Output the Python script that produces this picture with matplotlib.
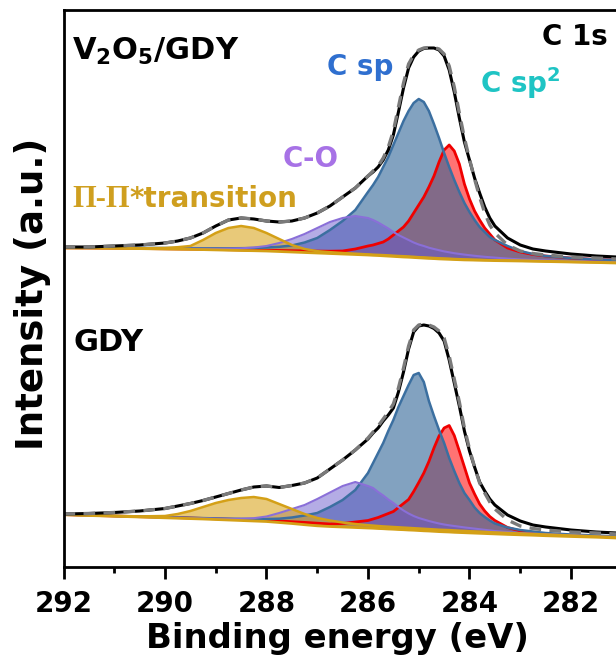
import numpy as np
import matplotlib.pyplot as plt

plt.rcParams['font.family'] = 'DejaVu Sans'
plt.rcParams['font.weight'] = 'bold'
plt.rcParams['mathtext.fontset'] = 'dejavusans'
plt.rcParams['mathtext.default'] = 'bf'

## Data (intensity in a.u., each spectrum relative to its own baseline)
binding_energy = [292.0, 291.5, 291.0, 290.5, 290.0, 289.75, 289.5, 289.25, 289.0, 288.75,
                  288.5, 288.25, 288.0, 287.75, 287.5, 287.25, 287.0, 286.75, 286.5, 286.25,
                  286.0, 285.9, 285.8, 285.7, 285.6, 285.5, 285.4, 285.3, 285.2, 285.1,
                  285.0, 284.9, 284.8, 284.7, 284.6, 284.5, 284.4, 284.3, 284.2, 284.1,
                  284.0, 283.9, 283.8, 283.7, 283.6, 283.5, 283.25, 283.0, 282.75, 282.5,
                  282.0, 281.5, 281.1]

# V2O5/GDY
v2o5_raw = [16, 16, 17, 18, 20, 22, 25, 30, 37, 43,
            45, 44, 42, 41, 42, 45, 50, 57, 66, 75,
            87, 91, 96, 103, 113, 128, 151, 175, 195, 206,
            212, 214.5, 215, 215, 213, 207, 193, 171, 145, 121,
            103, 85, 70, 56, 45, 37, 25, 18, 14, 12,
            9, 7, 6]
v2o5_fit = [16, 16, 17, 18, 20, 22, 25, 30, 37, 43,
            45, 44, 42, 41, 42, 45, 50, 57, 66, 75,
            87, 92, 97, 105, 116, 132, 156, 180, 199, 208,
            213, 215, 215.5, 215.5, 214, 209, 197, 176, 150, 125,
            104, 84, 66, 50, 38, 30, 18, 12, 9.5, 8,
            6, 5, 4]
v2o5_bg = [15, 15, 14.7, 14.4, 14, 13.8, 13.6, 13.4, 13.1, 12.8,
           12.5, 12.3, 12, 11.5, 11, 10.5, 10, 9.5, 9, 8.5,
           8, 7.7, 7.5, 7.2, 6.9, 6.6, 6.3, 6.0, 5.8, 5.5,
           5.2, 4.9, 4.6, 4.4, 4.1, 3.9, 3.7, 3.5, 3.3, 3.1,
           3.0, 2.9, 2.8, 2.7, 2.6, 2.4, 2.2, 2.0, 1.8, 1.5,
           1.0, 0.5, 0]
v2o5_pi = [15.2, 15.1, 14.9, 14.7, 15, 15.8, 17, 23, 30, 35,
           37, 35, 30, 24, 18, 14, 11.8, 10.8, 10, 9.3,
           8.6, 8.3, 8.1, 7.9, 7.6, 7.3, 7.0, 6.8, 6.5, 6.2,
           5.8, 5.6, 5.3, 5.0, 4.7, 4.5, 4.3, 4.0, 3.8, 3.6,
           3.4, 3.2, 3.1, 2.9, 2.8, 2.7, 2.5, 2.3, 2.0, 1.8,
           1.2, 0.7, 0.2]
v2o5_co = [15.3, 15.2, 15, 14.8, 14.5, 14.4, 14.3, 14.2, 14.2, 14.4,
           14.7, 15.5, 17, 20, 24, 29, 35, 41, 45, 47,
           45, 43, 40.5, 37.5, 34.5, 31, 28, 25.5, 23, 20.5,
           18.5, 17, 15.3, 14, 12.8, 11.6, 10.7, 9.8, 9.1, 8.4,
           7.8, 7.2, 6.7, 6.2, 5.8, 5.4, 4.4, 3.6, 3.1, 2.6,
           1.9, 1.3, 0.8]
v2o5_sp = [15.6, 15.5, 15.3, 15.1, 15, 14.9, 14.8, 14.7, 14.7, 14.7,
           14.8, 15, 15.5, 16.2, 17.5, 20.5, 25, 33, 42, 53,
           71, 78, 86, 96, 106, 118, 130, 142, 152, 160,
           164, 161, 152, 139, 125, 110, 96, 83, 71, 60,
           51, 43, 36, 31, 26, 23, 17, 12, 9, 7,
           5, 3.5, 3]
v2o5_sp2 = [15.2, 15.0, 14.8, 14.5, 14.2, 14.05, 13.9, 13.7, 13.5, 13.3,
            13.1, 12.9, 12.7, 12.5, 12.3, 12.1, 11.9, 11.8, 12, 14,
            17, 18, 19.5, 21, 24, 28, 32, 36, 42, 50,
            58, 66, 76, 87, 101, 113, 118, 112, 99, 79,
            64, 52, 43, 35, 29, 23, 15, 11, 8.5, 7,
            5, 3.5, 3]

# GDY
gdy_raw = [24, 24.5, 25.5, 27, 29.5, 32, 34.5, 37.5, 41, 44.5,
           48, 51, 52, 50.5, 52.5, 55, 60, 69, 78, 88,
           99, 105, 110, 117, 123, 130, 146, 166, 189, 206,
           212, 213, 212, 209.5, 205, 197, 178, 155, 132, 107,
           87, 71, 56, 47, 39, 33, 23, 17, 13, 11,
           8, 6, 5]
gdy_fit = [24, 24.5, 25.5, 27, 29.5, 32, 34.5, 37.5, 41, 44.5,
           48, 51, 52, 50.5, 52.5, 55, 60, 69, 78, 88,
           100, 106, 112, 119, 126, 134, 150, 170, 192, 208,
           213, 214, 213, 211, 207, 200, 182, 159, 136, 110,
           89, 71, 55, 45, 36, 29, 18, 12, 9.5, 8,
           6, 5, 4]
gdy_bg = [23.3, 22.5, 21.8, 21, 20.2, 19.8, 19.4, 19, 18.5, 18,
          17.5, 17, 16.5, 15.5, 14.5, 13.3, 12.2, 11.5, 11, 10.5,
          10, 9.8, 9.5, 9.3, 9.0, 8.8, 8.5, 8.3, 8.0, 7.8,
          7.5, 7.2, 7.0, 6.7, 6.4, 6.2, 6.0, 5.7, 5.5, 5.3,
          5.1, 4.9, 4.7, 4.5, 4.3, 4.1, 3.6, 3.2, 2.8, 2.3,
          1.5, 0.8, 0]
gdy_pi = [23.5, 22.8, 22.2, 21.6, 22, 24, 27, 31, 35, 38,
          40, 41, 39, 34, 29, 24, 20, 17.5, 15.5, 14,
          12.8, 12.4, 12, 11.6, 11.3, 11, 10.7, 10.4, 10.1, 9.8,
          9.5, 9.2, 8.9, 8.6, 8.3, 8.1, 7.9, 7.6, 7.3, 7.1,
          6.8, 6.6, 6.4, 6.1, 5.8, 5.6, 5, 4.5, 4, 3.5,
          2.5, 1.5, 0.8]
gdy_co = [23.4, 22.7, 22, 21.3, 20.6, 20.25, 19.9, 19.6, 19.3, 19.2,
          19.3, 19.8, 21.5, 25, 29, 33, 39, 45.5, 52, 56,
          52, 50, 46, 42.5, 38.5, 35, 31, 27.5, 24.5, 22,
          20, 18.5, 17, 15.7, 14.5, 13.5, 12.7, 12, 11.3, 10.6,
          10, 9.4, 8.8, 8.2, 7.6, 7, 6, 5, 4.4, 3.8,
          2.8, 1.8, 1]
gdy_sp = [23.5, 22.8, 22.1, 21.4, 20.8, 20.5, 20.2, 19.9, 19.6, 19.3,
          19.1, 19, 19, 19.3, 20.5, 22.5, 25, 31, 38, 48,
          65, 75, 85, 95, 107, 118, 131, 142, 153, 163,
          165, 156, 137, 122, 108, 95, 80, 67, 55, 45,
          38, 30.5, 25, 21, 17.5, 14.5, 10.5, 8, 6.5, 5,
          3.5, 2.5, 1.5]
gdy_sp2 = [23.4, 22.7, 22, 21.3, 20.7, 20.35, 20, 19.6, 19.2, 18.8,
           18.4, 18, 17.6, 17, 16.3, 15.6, 14.8, 14, 14.5, 16,
           17.5, 19, 20.5, 22.5, 24.5, 26.5, 30.5, 34.5, 38.5, 46.5,
           55.5, 65, 76.5, 90, 102, 110, 112.5, 102.5, 87, 71,
           55, 44, 34, 27, 21.5, 17.5, 10.5, 7, 5.5, 4,
           2.5, 1.7, 1]

## Styles
gold = '#d4a017'
comp_styles = [  # (fill colour, fill alpha, line colour, line width)
    ('#ff0000', 0.55, '#f00000', 2.0),   # C sp2
    ('#2f6497', 0.60, '#3b6fa0', 1.8),   # C sp
    ('#6a5acd', 0.50, '#8a6fd8', 1.5),   # C-O
    ('#daa520', 0.60, gold, 1.8),        # pi-pi*
]


def draw_spectrum(ax, energy, raw, fit, bg, comps, offset):
    '''Fill each fitted component above the background, then raw data + fit envelope'''
    energy = np.array(energy)
    bg = np.array(bg) + offset
    for comp, (fc, alpha, lc, lw) in zip(comps, comp_styles):
        comp = np.array(comp) + offset
        ax.fill_between(energy, bg, comp, color=fc, alpha=alpha, lw=0)
        ax.plot(energy, comp, color=lc, lw=lw)
    ax.plot(energy, bg, color=gold, lw=2)
    ax.plot(energy, np.array(raw) + offset, color='k', lw=2.2)
    ax.plot(energy, np.array(fit) + offset, color='#7a7a7a', lw=2.4, dashes=(3.5, 2.5))


fig = plt.figure(figsize=(6.16, 6.66), dpi=100)
ax = fig.add_axes([63.5 / 616, 99 / 666, 552.5 / 616, 557 / 666])

draw_spectrum(ax, binding_energy, v2o5_raw, v2o5_fit, v2o5_bg,
              [v2o5_sp2, v2o5_sp, v2o5_co, v2o5_pi], offset=304)
draw_spectrum(ax, binding_energy, gdy_raw, gdy_fit, gdy_bg,
              [gdy_sp2, gdy_sp, gdy_co, gdy_pi], offset=29)

ax.set_xlim(292, 281.113)
ax.set_ylim(0, 557)
ax.set_yticks([])
ax.set_xticks(np.arange(292, 281, -2))
ax.set_xticks(np.arange(291, 281, -2), minor=True)
ax.tick_params(axis='x', which='major', direction='out', length=8.5, width=2, pad=8, labelsize=20)
ax.tick_params(axis='x', which='minor', direction='out', length=4.5, width=2)
for lab in ax.get_xticklabels():
    lab.set_fontweight('bold')
for side in ['top', 'bottom', 'left']:
    ax.spines[side].set_linewidth(2)
ax.spines['right'].set_visible(False)

ax.set_xlabel('Binding energy (eV)', fontsize=24.4, fontweight='bold')
ax.xaxis.set_label_coords(0.495, -0.099)
ax.set_ylabel('Intensity (a.u.)', fontsize=26.7, fontweight='bold')
ax.yaxis.set_label_coords(-0.022, 0.49)

## Annotations
tr = ax.transAxes
ax.text(0.0154, 0.910, 'V$_2$O$_5$/GDY', fontsize=22, transform=tr, va='baseline')
ax.text(0.019, 0.388, 'GDY', fontsize=22, transform=tr, va='baseline')
ax.text(0.866, 0.937, 'C 1s', fontsize=20, transform=tr, va='baseline')
ax.text(0.477, 0.883, 'C sp', fontsize=20, color='#2f6fcf', transform=tr, va='baseline')
ax.text(0.754, 0.851, 'C sp$^2$', fontsize=20, color='#1fc4c4', transform=tr, va='baseline')
ax.text(0.397, 0.718, 'C-O', fontsize=20, color='#a772e6', transform=tr, va='baseline')
t1 = ax.text(0.0154, 0.646, 'Π-Π', family='Liberation Serif', fontsize=22, color='#cf9f1f',
             transform=tr, va='baseline')
ax.annotate('*transition', xy=(1.0, 0.646), xycoords=(t1, 'axes fraction'), fontsize=20,
            color='#cf9f1f', va='baseline', ha='left')

fig.savefig('out.png', dpi=100)
